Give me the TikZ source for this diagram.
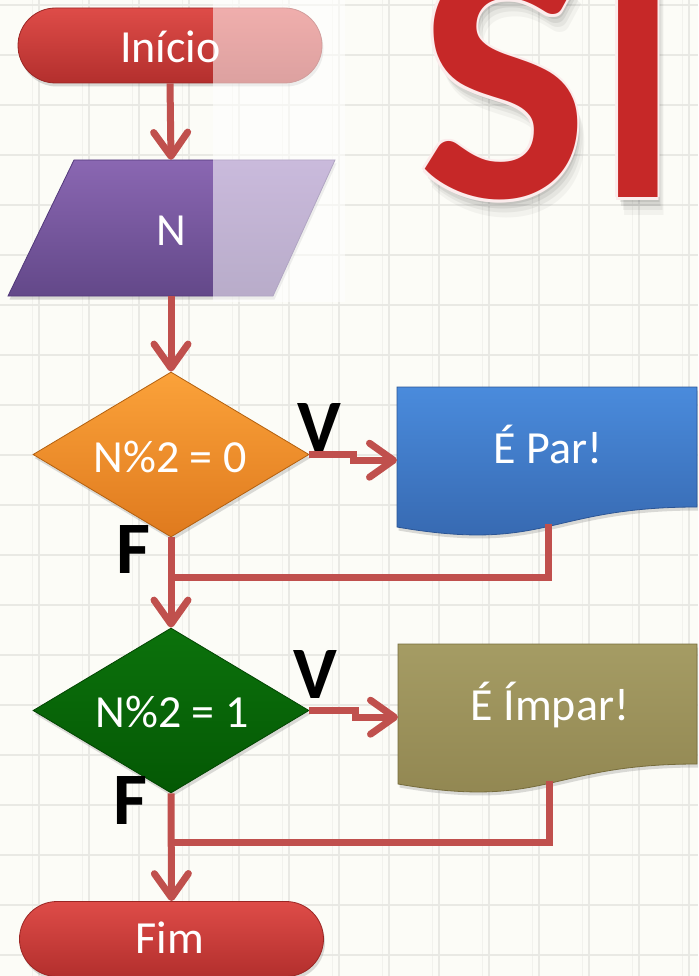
\documentclass[tikz,border=0pt]{standalone}
\usepackage{fontspec}
\setmainfont{Carlito}
\usetikzlibrary{shapes.geometric,shapes.misc,arrows.meta,shadows,calc}
\definecolor{bgc}{HTML}{FCFCF7}
\definecolor{gridc}{HTML}{E9E9E4}
\definecolor{gridf}{HTML}{F2F2ED}
\definecolor{arrowc}{HTML}{C0504D}
\definecolor{redT}{HTML}{DE4C48}
\definecolor{redB}{HTML}{B32F2D}
\definecolor{redD}{HTML}{9A2624}
\definecolor{purT}{HTML}{8A67B2}
\definecolor{purB}{HTML}{634889}
\definecolor{purD}{HTML}{52397A}
\definecolor{orT}{HTML}{FBA23A}
\definecolor{orB}{HTML}{DF7A1E}
\definecolor{orD}{HTML}{B3600F}
\definecolor{grT}{HTML}{0C720C}
\definecolor{grB}{HTML}{045804}
\definecolor{grD}{HTML}{034503}
\definecolor{blT}{HTML}{4A8BDC}
\definecolor{blB}{HTML}{3566AD}
\definecolor{blD}{HTML}{2B5595}
\definecolor{olT}{HTML}{A59C64}
\definecolor{olB}{HTML}{908550}
\definecolor{olD}{HTML}{766C3C}
\definecolor{siR}{HTML}{C62828}
\definecolor{siE}{HTML}{FBECEC}
\begin{document}
\begin{tikzpicture}[x=1pt,y=-1pt,
  conn/.style={draw=arrowc, line width=7pt},
  arr/.style={conn, -{Straight Barb[length=24pt,width=34pt,round]}},
  wtxt/.style={text=white, font=\fontsize{46}{46}\selectfont, inner sep=0pt, anchor=base},
  lbl/.style={text=black, font=\bfseries\fontsize{74}{74}\selectfont, inner sep=0pt},
  shad/.style={drop shadow={opacity=0.28, shadow xshift=1.5pt, shadow yshift=-3.5pt}},
  stadium/.style={rounded rectangle, minimum width=304pt, minimum height=75pt, inner sep=0pt,
     top color=redT, bottom color=redB, draw=redD, line width=0.8pt, shad},
  deci/.style={diamond, minimum width=276pt, minimum height=165pt, shape aspect=1.67, inner sep=0pt, line width=0.8pt, shad},
  ghost/.style={rectangle, inner sep=0pt, draw=none},
  sitxt/.style={font=\bfseries\fontsize{360}{360}\selectfont, inner sep=0pt, anchor=base west},
  itxt/.style={sitxt, xscale=0.85, transform shape}
]
\path[use as bounding box] (0,0) rectangle (698,976);
\clip (0,0) rectangle (698,976);
% background and grid
\fill[bgc] (0,0) rectangle (698,976);
\foreach \x in {32,82,...,682} \draw[gridf, line width=1pt] (\x,0) -- (\x,976);
\foreach \x in {39,89,...,689} \draw[gridc, line width=1.4pt] (\x,0) -- (\x,976);
\foreach \y in {5,55,...,955} \draw[gridc, line width=1.4pt] (0,\y) -- (698,\y);

% big SI : shadow, light outline, red letters
\foreach \d/\o in {5/0.08,9/0.07,13/0.05,17/0.04} {
  \node[sitxt, text=black, opacity=\o] (sSh\d) at (418+0.4*\d,198+\d) {S};
  \node[itxt, text=black, opacity=\o] (iSh\d) at (597+0.4*\d,198+\d) {I};
}
\foreach \a in {0,60,...,300} {
  \node[sitxt, text=siE] (sOl\a) at ($(418,198)+(\a:2.6)$) {S};
  \node[itxt, text=siE] (iOl\a) at ($(597,198)+(\a:2.6)$) {I};
}
\node[sitxt, text=siR] (siS) at (418,198) {S};
\node[itxt, text=siR] (siI) at (597,198) {I};

% terminals
\node[stadium] (ini) at (170,45.5) {};
\node[wtxt] (iniT) at (170.5,63) {Início};
\node[stadium] (fim) at (171.5,939) {};
\node[wtxt] (fimT) at (170,953) {Fim};

% input parallelogram
\path[top color=purT, bottom color=purB, draw=purD, line width=0.8pt, shad]
  (74,160) -- (335,160) -- (273,296) -- (8,296) -- cycle;
\node[ghost, minimum width=200pt, minimum height=136pt] (inp) at (171,228) {};
\node[wtxt] (inpT) at (171,245) {N};

% translucent overlay
\fill[white, opacity=0.55] (213,0) rectangle (345,302);

% decisions
\node[deci, top color=orT, bottom color=orB, draw=orD] (d1) at (171,454.5) {};
\node[wtxt] (d1T) at (170,472) {N\%2 = 0};
\node[deci, top color=grT, bottom color=grB, draw=grD] (d2) at (171,710.5) {};
\node[wtxt] (d2T) at (172,727) {N\%2 = 1};

% documents
\path[top color=blT, bottom color=blB, draw=blD, line width=0.8pt, shad]
  (397,387) -- (697,387) -- (697,507) .. controls (547,507) and (547,553) .. (397,527) -- cycle;
\node[ghost, minimum width=300pt, minimum height=146pt, anchor=north west] (par) at (397,387) {};
\node[wtxt] (parT) at (548,463) {É Par!};
\path[top color=olT, bottom color=olB, draw=olD, line width=0.8pt, shad]
  (398,644) -- (697,644) -- (697,764) .. controls (547.5,764) and (547.5,810) .. (398,784) -- cycle;
\node[ghost, minimum width=299pt, minimum height=146pt, anchor=north west] (imp) at (398,644) {};
\node[wtxt] (impT) at (550,720) {É Ímpar!};

% labels
\node[lbl, anchor=base] (v1) at (319,451) {V};
\node[lbl, anchor=base west] (f1) at (116,573) {F};
\node[lbl, anchor=base] (v2) at (315,698) {V};
\node[lbl, anchor=base west] (f2) at (113,824) {F};

% connectors
\coordinate (parB) at (548,524);
\coordinate (j1) at (171,577);
\coordinate (impB) at (549,781);
\coordinate (j2) at (171,842);
\draw[arr] (ini.south) -- (inp.north);
\draw[arr] (inp.south) -- (d1.north);
\draw[arr] (d1.east) -- ++(44,0) |- (par.west);
\draw[conn] (parB) |- (j1);
\draw[arr] (d1.south) -- (d2.north);
\draw[arr] (d2.east) -- ++(46,0) |- (imp.west);
\draw[conn] (impB) |- (j2);
\draw[arr] (d2.south) -- (fim.north);
\end{tikzpicture}
\end{document}
